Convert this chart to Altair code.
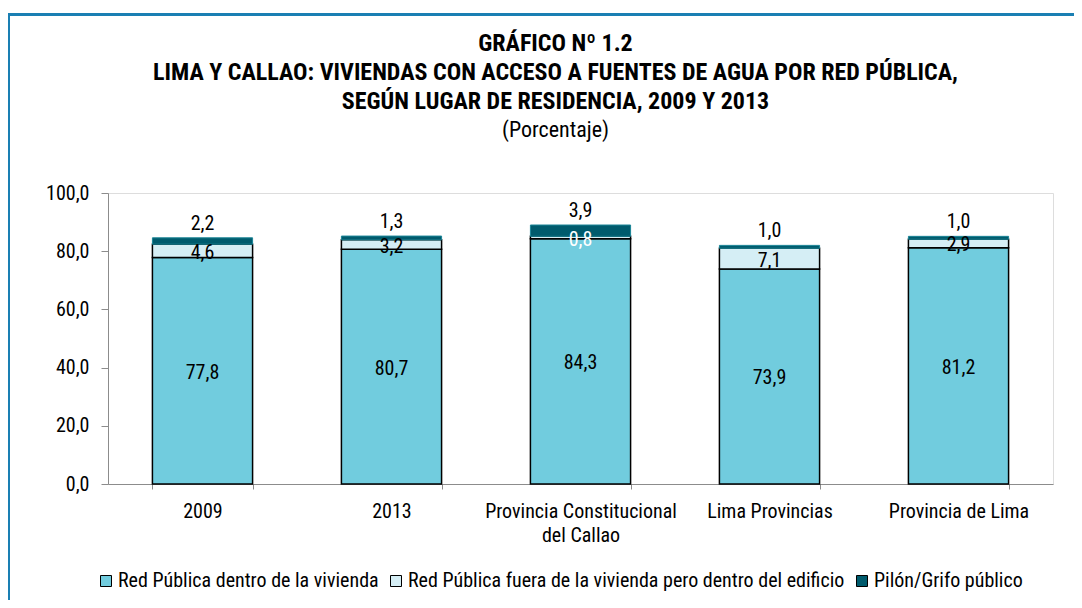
import altair as alt
import pandas as pd

categorias = ["2009", "2013", "Provincia Constitucional del Callao", "Lima Provincias", "Provincia de Lima"]
series = ["Red Pública dentro de la vivienda",
          "Red Pública fuera de la vivienda pero dentro del edificio",
          "Pilón/Grifo público"]
dentro = [77.8, 80.7, 84.3, 73.9, 81.2]
fuera = [4.6, 3.2, 0.8, 7.1, 2.9]
pilon = [2.2, 1.3, 3.9, 1.0, 1.0]
colores = ["#71CCDE", "#D5EEF5", "#005B6D"]

FONT = "Roboto Condensed, serif"
FS = 20

rows = []
for i, c in enumerate(categorias):
    base = 0.0
    for s, vals in zip(series, [dentro, fuera, pilon]):
        v = vals[i]
        rows.append({"cat": c, "serie": s, "valor": v, "ini": base, "fin": base + v,
                     "mid": base + v / 2, "orden": series.index(s),
                     "etiqueta": f"{v:.1f}".replace(".", ",")})
        base += v
df = pd.DataFrame(rows)

x_enc = alt.X("cat:N", sort=categorias, title=None,
              scale=alt.Scale(paddingInner=0.47, paddingOuter=0.235),
              axis=alt.Axis(labelAngle=0, labelFontSize=FS, labelColor="#000", labelFont=FONT,
                            labelFontWeight="normal",
                            domainColor="#8c8c8c", tickColor="#8c8c8c", tickSize=5,
                            tickBand="extent", labelPadding=12, labelLineHeight=24,
                            labelLimit=400,
                            labelExpr="datum.label == 'Provincia Constitucional del Callao' ? ['Provincia Constitucional', 'del Callao'] : datum.label"))

y_scale = alt.Scale(domain=[0, 100], nice=False)

bars = alt.Chart(df).mark_bar().encode(
    x=x_enc,
    y=alt.Y("ini:Q", scale=y_scale, title=None,
            axis=alt.Axis(values=[0, 20, 40, 60, 80, 100], grid=False, labelFontSize=FS,
                          labelColor="#000", labelFont=FONT, domainColor="#8c8c8c",
                          tickColor="#8c8c8c", tickSize=7, labelPadding=12,
                          labelExpr="replace(format(datum.value, '.1f'), '.', ',')")),
    y2="fin:Q",
    fill=alt.Fill("serie:N", sort=series, scale=alt.Scale(domain=series, range=colores),
                  legend=alt.Legend(title=None, orient="none", legendX=-12, legendY=378,
                                    direction="horizontal", columns=3, symbolType="square",
                                    symbolSize=121, symbolStrokeColor="#000",
                                    symbolStrokeWidth=1, labelFontSize=FS, labelFont=FONT,
                                    labelColor="#000", labelLimit=600, columnPadding=7,
                                    labelOffset=2)),
    stroke=alt.condition(alt.datum.orden == 2, alt.value("#1B8597"), alt.value("#000000")),
    strokeWidth=alt.condition(alt.datum.orden == 2, alt.value(1), alt.value(1.5)),
)

mid_labels = alt.Chart(df).transform_filter(alt.datum.orden < 2).mark_text(
    fontSize=FS, font=FONT, baseline="middle", dy=2).encode(
    x=alt.X("cat:N", sort=categorias),
    y=alt.Y("mid:Q", scale=y_scale),
    text="etiqueta:N",
    color=alt.condition((alt.datum.cat == "Provincia Constitucional del Callao") & (alt.datum.orden == 1),
                        alt.value("#ffffff"), alt.value("#000000")),
)

top_labels = alt.Chart(df).transform_filter(alt.datum.orden == 2).mark_text(
    fontSize=FS, font=FONT, baseline="bottom", dy=-4, color="#000").encode(
    x=alt.X("cat:N", sort=categorias),
    y=alt.Y("fin:Q", scale=y_scale),
    text="etiqueta:N",
)

frame_top = alt.Chart(df).mark_rule(color="#1A7FB3", strokeWidth=3).encode(
    x=alt.value(-101), x2=alt.value(980), y=alt.value(-178.5))
frame_left = alt.Chart(df).mark_rule(color="#1A7FB3", strokeWidth=3).encode(
    x=alt.value(-99.5), y=alt.value(-180), y2=alt.value(420))

chart = alt.layer(frame_top, frame_left, bars, mid_labels, top_labels).properties(
    width=945, height=291,
    autosize=alt.AutoSizeParams(type="none"),
    padding={"left": 100, "top": 185, "right": 21, "bottom": 116},
    title=alt.TitleParams(
        text=["GRÁFICO Nº 1.2",
              "LIMA Y CALLAO: VIVIENDAS CON ACCESO A FUENTES DE AGUA POR RED PÚBLICA,",
              "SEGÚN LUGAR DE RESIDENCIA,  2009 Y 2013"],
        subtitle="(Porcentaje)",
        font=FONT, fontSize=24, fontWeight="bold", color="#000", lineHeight=29,
        subtitleFont=FONT, subtitleFontSize=22, subtitleColor="#000",
        subtitlePadding=6, anchor="middle", dx=-25, offset=0, dy=129),
).configure_view(strokeWidth=0).configure(background="#ffffff")

chart.save("out.html", embed_options={"renderer": "svg", "actions": False})
